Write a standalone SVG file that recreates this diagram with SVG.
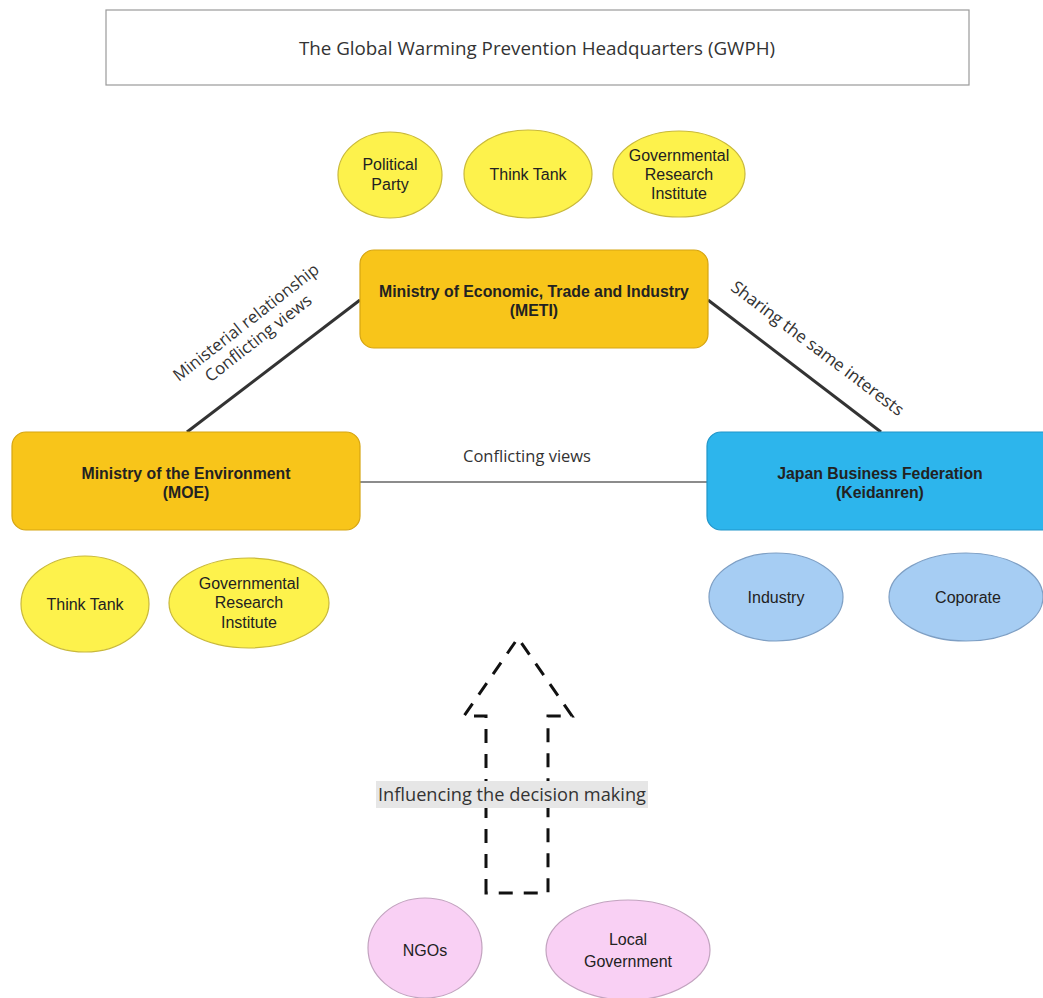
<svg xmlns="http://www.w3.org/2000/svg" width="1043" height="998" viewBox="0 0 1043 998">
<style>
.lbl{font-family:"Open Sans","DejaVu Sans",sans-serif;fill:#333;}
.nt{font-family:"Liberation Sans",Arial,sans-serif;fill:#222;font-size:16px;text-anchor:middle;}
.bt{font-family:"Liberation Sans",Arial,sans-serif;fill:#222;font-size:15.8px;font-weight:bold;text-anchor:middle;}
.yel{fill:#fdf24c;stroke:#c9b93a;stroke-width:1.2;}
.blu{fill:#a6cdf3;stroke:#7e9fc4;stroke-width:1.2;}
.pnk{fill:#f9d0f4;stroke:#c2a3bf;stroke-width:1.2;}
.org{fill:#f8c51a;stroke:#d6a512;stroke-width:1.2;}
.cyan{fill:#2db5ec;stroke:#2196c9;stroke-width:1.2;}
</style>
<rect width="1043" height="998" fill="#fff"/>
<g id="gwph">
<rect x="106" y="10" width="863" height="75" fill="#fff" stroke="#9a9a9a" stroke-width="1.2"/>
<text class="lbl" x="537" y="55" font-size="18.8" text-anchor="middle">The Global Warming Prevention Headquarters (GWPH)</text>
</g>
<g id="connectors">
<line x1="360" y1="300" x2="187" y2="432" stroke="#333" stroke-width="3"/>
<line x1="708" y1="300" x2="881" y2="432" stroke="#333" stroke-width="3"/>
<line x1="360" y1="482" x2="707" y2="482" stroke="#666" stroke-width="1.5"/>
<text class="lbl" x="527" y="462" font-size="16.5" text-anchor="middle">Conflicting views</text>
<g transform="translate(252,330) rotate(-38)">
<text class="lbl" x="0" y="-4" font-size="16.8" text-anchor="middle">Ministerial relationship</text>
<text class="lbl" x="0" y="16" font-size="16.8" text-anchor="middle">Conflicting views</text>
</g>
<text class="lbl" transform="translate(814,353) rotate(37)" font-size="17" text-anchor="middle">Sharing the same interests</text>
<path d="M486,893 L486,716 L464,716 L518,638 L572,716 L548,716 L548,893 Z" fill="none" stroke="#111" stroke-width="3" stroke-dasharray="14,11"/>
<rect x="376" y="781" width="272" height="27" fill="#e6e6e6"/>
<text class="lbl" x="512" y="801" font-size="18.2" text-anchor="middle">Influencing the decision making</text>
</g>
<g id="political-party">
<ellipse class="yel" cx="390" cy="175" rx="52" ry="43"/>
<text class="nt" x="390" y="170">Political</text>
<text class="nt" x="390" y="190">Party</text>
</g>
<g id="think-tank-top">
<ellipse class="yel" cx="528" cy="174" rx="64" ry="44"/>
<text class="nt" x="528" y="180">Think Tank</text>
</g>
<g id="gri-top">
<ellipse class="yel" cx="679" cy="174" rx="66" ry="43"/>
<text class="nt" x="679" y="161">Governmental</text>
<text class="nt" x="679" y="180">Research</text>
<text class="nt" x="679" y="199">Institute</text>
</g>
<g id="meti">
<rect class="org" x="360" y="250" width="348" height="98" rx="14"/>
<text class="bt" x="534" y="297">Ministry of Economic, Trade and Industry</text>
<text class="bt" x="534" y="316">(METI)</text>
</g>
<g id="moe">
<rect class="org" x="12" y="432" width="348" height="98" rx="14"/>
<text class="bt" x="186" y="479">Ministry of the Environment</text>
<text class="bt" x="186" y="498">(MOE)</text>
</g>
<g id="keidanren">
<rect class="cyan" x="707" y="432" width="350" height="98" rx="14"/>
<text class="bt" x="880" y="479">Japan Business Federation</text>
<text class="bt" x="880" y="498">(Keidanren)</text>
</g>
<g id="think-tank-moe">
<ellipse class="yel" cx="85" cy="604" rx="64" ry="48"/>
<text class="nt" x="85" y="610">Think Tank</text>
</g>
<g id="gri-moe">
<ellipse class="yel" cx="249" cy="603" rx="80" ry="45"/>
<text class="nt" x="249" y="589">Governmental</text>
<text class="nt" x="249" y="608">Research</text>
<text class="nt" x="249" y="628">Institute</text>
</g>
<g id="industry">
<ellipse class="blu" cx="776" cy="597" rx="67" ry="44"/>
<text class="nt" x="776" y="603">Industry</text>
</g>
<g id="coporate">
<ellipse class="blu" cx="966" cy="597" rx="77" ry="44"/>
<text class="nt" x="968" y="603">Coporate</text>
</g>
<g id="ngos">
<ellipse class="pnk" cx="425" cy="948" rx="57" ry="50"/>
<text class="nt" x="425" y="956">NGOs</text>
</g>
<g id="local-government">
<ellipse class="pnk" cx="628" cy="950" rx="82" ry="50"/>
<text class="nt" x="628" y="945">Local</text>
<text class="nt" x="628" y="967">Government</text>
</g>
</svg>
